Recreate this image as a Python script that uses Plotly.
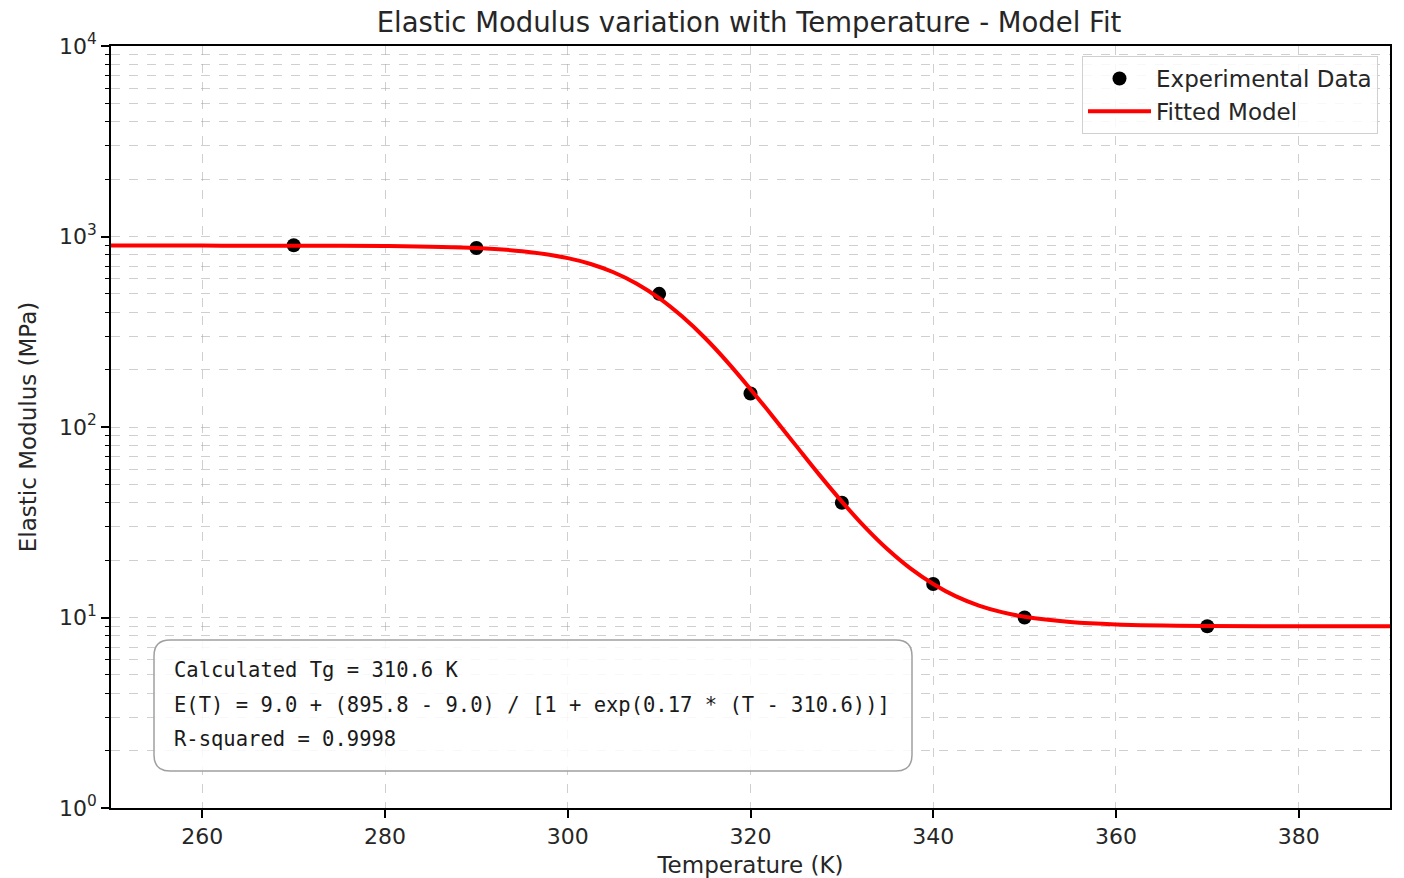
import plotly.graph_objects as go

# Experimental data
T_exp = [270, 290, 310, 320, 330, 340, 350, 370]
E_exp = [900, 870, 500, 150, 40, 15, 10, 9]

# Fitted model curve
T_fit = [250, 260, 270, 280, 290, 295, 300, 302.5, 305, 307.5, 310, 312.5, 315, 317.5,
         320, 322.5, 325, 327.5, 330, 332.5, 335, 337.5, 340, 342.5, 345, 347.5, 350,
         355, 360, 370, 380, 390]
E_fit = [895.8, 895.6, 894.9, 890.9, 869.9, 837, 770, 717, 649, 567, 475, 381, 294, 218.5,
         158, 112.6, 79.6, 56.4, 40.6, 29.9, 22.8, 18.1, 15.0, 12.9, 11.55, 10.67, 10.09,
         9.47, 9.2, 9.03, 9.0, 9.0]

y_tickvals = [1, 10, 100, 1000, 10000]
y_ticktext = ["10<sup>0</sup>", "10<sup>1</sup>", "10<sup>2</sup>", "10<sup>3</sup>", "10<sup>4</sup>"]
x_tickvals = [260, 280, 300, 320, 340, 360, 380]

annot_lines = [
    "Calculated Tg = 310.6 K",
    "E(T) = 9.0 + (895.8 - 9.0) / [1 + exp(0.17 * (T - 310.6))]",
    "R-squared = 0.9998",
]

minor_y = [m * 10 ** d for d in range(0, 4) for m in range(2, 10)]

FONT = "DejaVu Sans, sans-serif"
MONO = "DejaVu Sans Mono, monospace"

fig = go.Figure()
fig.add_trace(go.Scatter(
    x=T_exp, y=E_exp, mode="markers", name="Experimental Data",
    marker=dict(color="black", size=14),
))
fig.add_trace(go.Scatter(
    x=T_fit, y=E_fit, mode="lines", name="Fitted Model",
    line=dict(color="red", width=4, shape="spline"),
))

grid_col = "rgba(160,160,160,0.5)"

fig.update_layout(
    width=1404, height=878,
    margin=dict(l=111, r=14, t=46, b=70),
    paper_bgcolor="white", plot_bgcolor="white",
    font=dict(family=FONT, size=23, color="#262626"),
    title=dict(text="Elastic Modulus variation with Temperature - Model Fit",
               x=0.5335, xanchor="center", y=0.975, yanchor="middle",
               font=dict(size=27.5, color="#262626")),
    xaxis=dict(
        range=[250, 390], tickvals=x_tickvals, ticks="outside", ticklen=8,
        tickcolor="black", tickwidth=1.5, showline=True, linecolor="black", linewidth=1.8,
        mirror=True, showgrid=True, gridcolor=grid_col, griddash="dash", gridwidth=1,
        zeroline=False, tickfont=dict(size=22), automargin=False,
        title=dict(text="Temperature (K)", standoff=11, font=dict(size=23)),
    ),
    yaxis=dict(
        type="log", range=[0, 4], tickvals=y_tickvals, ticktext=y_ticktext,
        ticks="outside", ticklen=8, tickcolor="black", tickwidth=1.5,
        showline=True, linecolor="black", linewidth=1.8, mirror=True,
        showgrid=True, gridcolor=grid_col, griddash="dash", gridwidth=1,
        zeroline=False, tickfont=dict(size=22), automargin=False,
        minor=dict(tickvals=minor_y, ticks="outside", ticklen=4.5, tickcolor="black",
                   tickwidth=1.2,
                   showgrid=True, gridcolor=grid_col, griddash="dash", gridwidth=1),
        title=dict(text="Elastic Modulus (MPa)", standoff=16, font=dict(size=23)),
    ),
    legend=dict(
        x=(1378 - 111) / 1279, y=(808 - 56) / 762, xanchor="right", yanchor="top",
        bgcolor="rgba(255,255,255,0.85)", bordercolor="#d0d0d0", borderwidth=1,
        font=dict(size=23, color="#262626"), itemwidth=63,
        tracegroupgap=4,
    ),
    showlegend=True,
)

# Rounded box for annotation (paper coords)
x0p, x1p = (154 - 111) / 1279, (912 - 111) / 1279
y0p, y1p = (808 - 771) / 762, (808 - 640) / 762
rx, ry = 16 / 1279, 16 / 762
path = (f"M {x0p+rx},{y0p} L {x1p-rx},{y0p} Q {x1p},{y0p} {x1p},{y0p+ry} "
        f"L {x1p},{y1p-ry} Q {x1p},{y1p} {x1p-rx},{y1p} "
        f"L {x0p+rx},{y1p} Q {x0p},{y1p} {x0p},{y1p-ry} "
        f"L {x0p},{y0p+ry} Q {x0p},{y0p} {x0p+rx},{y0p} Z")
fig.add_shape(type="path", path=path, xref="paper", yref="paper",
              line=dict(color="#a0a0a0", width=1.5), fillcolor="rgba(255,255,255,0.85)",
              layer="above")

line_ys = [670, 705, 739]
for txt, py in zip(annot_lines, line_ys):
    fig.add_annotation(
        x=(172 - 111) / 1279, y=(808 - py) / 762, xref="paper", yref="paper",
        xanchor="left", yanchor="middle", text=txt, showarrow=False,
        font=dict(family=MONO, size=20.5, color="#1a1a1a"),
    )

fig.write_html("out.html")
